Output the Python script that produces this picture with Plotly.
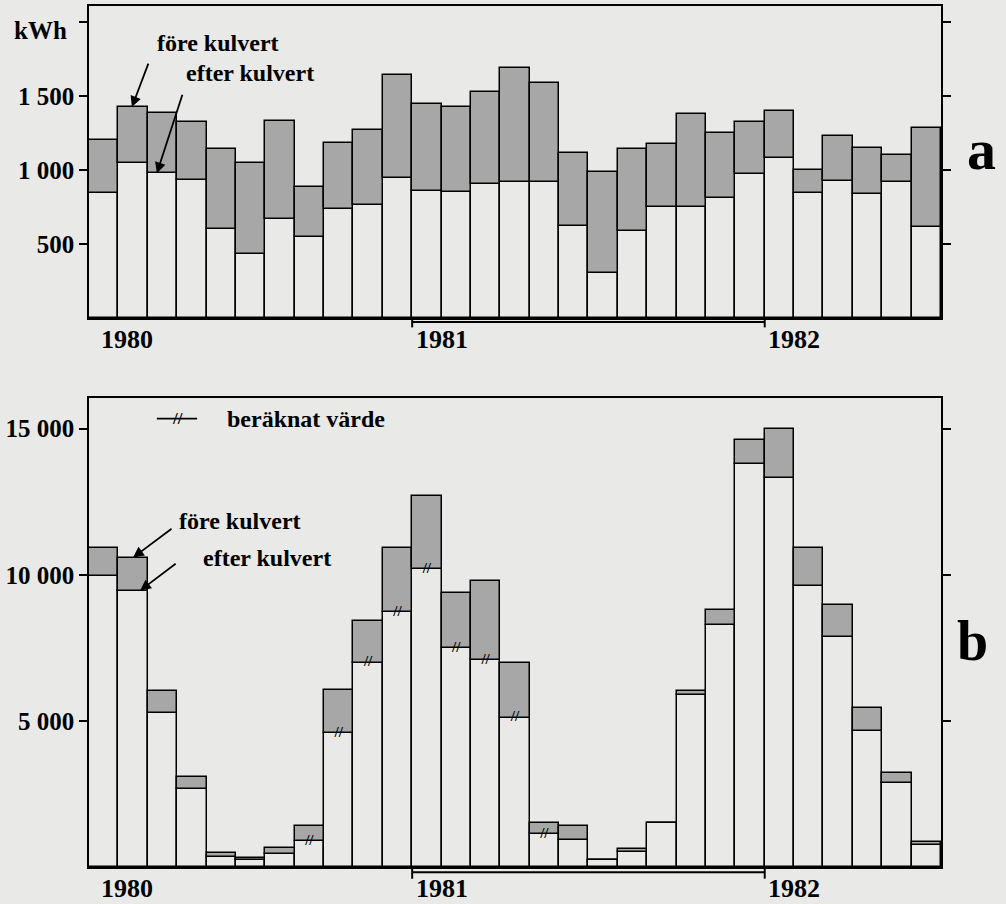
import plotly.graph_objects as go

# ---------------- data ----------------
# 29 monthly bars, Feb 1980 .. Jun 1982
years = ["1980", "1981", "1982"]
year_first_bar = [0, 11, 23]          # index of first bar of each year
year_label_x = [0.8, 11.5, 23.5]

# panel a (kWh)
fore_a = [1200, 1425, 1386, 1327, 1139, 1044, 1332, 888, 1185, 1271, 1644, 1447, 1429, 1525,
          1686, 1590, 1112, 986, 1143, 1177, 1379, 1247, 1323, 1397, 998, 1229, 1150, 1103, 1282]
efter_a = [843, 1046, 978, 931, 602, 430, 670, 548, 734, 761, 945, 861, 852, 905,
           919, 919, 623, 303, 585, 749, 749, 812, 973, 1083, 847, 926, 836, 917, 612]

# panel b
fore_b = [10900, 10590, 6030, 3070, 480, 300, 640, 1416, 6060, 8430, 10900, 12690, 9360, 9780,
          6990, 1490, 1410, 250, 627, 1500, 6040, 8780, 14620, 15000, 10900, 8950, 5440, 3215, 840]
efter_b = [9960, 9460, 5280, 2670, 343, 228, 434, 891, 4570, 6990, 8710, 10200, 7480, 7070,
           5110, 1120, 914, 250, 520, 1500, 5870, 8280, 13800, 13310, 9620, 7860, 4650, 2890, 750]
beraknat_b = [7, 8, 9, 10, 11, 12, 13, 14, 15]   # bars with calculated value

ticks_a = [500, 1000, 1500, 2000]
ticktext_a = ["500", "1 000", "1 500", ""]
ticks_b = [5000, 10000, 15000]
ticktext_b = ["5 000", "10 000", "15 000"]

# ---------------- style ----------------
BG = "#e9e9e7"
GREY = "#a7a7a7"
FONT = "Liberation Serif"
idx = list(range(len(fore_a)))

fig = go.Figure()

def add_panel(fore, efter, xa, ya):
    fig.add_trace(go.Bar(x=idx, y=efter, base=[0] * len(efter), width=1,
                         marker=dict(color=BG, line=dict(color="black", width=1.5)),
                         xaxis=xa, yaxis=ya, showlegend=False, hoverinfo="skip"))
    fig.add_trace(go.Bar(x=idx, y=[f - e for f, e in zip(fore, efter)], base=efter, width=1,
                         marker=dict(color=GREY, line=dict(color="black", width=1.5)),
                         xaxis=xa, yaxis=ya, showlegend=False, hoverinfo="skip"))

add_panel(fore_a, efter_a, "x", "y")
add_panel(fore_b, efter_b, "x2", "y2")

# calculated-value marks
fig.add_trace(go.Scatter(x=beraknat_b, y=[efter_b[i] for i in beraknat_b], mode="text",
                         text=["<b>//</b>"] * len(beraknat_b),
                         textfont=dict(family=FONT, size=15, color="black"),
                         xaxis="x2", yaxis="y2", showlegend=False, hoverinfo="skip"))

axis_common = dict(showline=True, linecolor="black", linewidth=1.5, mirror=True,
                   showgrid=False, zeroline=False, automargin=False)
fig.update_layout(
    width=1006, height=904,
    margin=dict(l=89, r=65, t=6, b=37),
    paper_bgcolor=BG, plot_bgcolor=BG,
    barmode="overlay", bargap=0,
    font=dict(family=FONT, color="black"),
    xaxis=dict(domain=[0, 1], range=[-0.5, 28.5], showticklabels=False, ticks="",
               anchor="y", **axis_common),
    xaxis2=dict(domain=[0, 1], range=[-0.5, 28.5], showticklabels=False, ticks="",
                anchor="y2", **axis_common),
    yaxis=dict(domain=[0.6376, 1.0], range=[0, 2108], tickvals=ticks_a, ticktext=ticktext_a,
               ticks="outside", ticklen=8, tickwidth=1.5, tickcolor="black",
               tickfont=dict(family=FONT, size=25, weight="bold"), anchor="x",
               **{**axis_common, "mirror": "ticks"}),
    yaxis2=dict(domain=[0, 0.5447], range=[0, 16050], tickvals=ticks_b, ticktext=ticktext_b,
                ticks="outside", ticklen=8, tickwidth=1.5, tickcolor="black",
                tickfont=dict(family=FONT, size=25, weight="bold"), anchor="x2",
                **{**axis_common, "mirror": "ticks"}),
)

ann = []
shapes = []
lbl = dict(family=FONT, size=24, color="black", weight="bold")

# kWh unit label
ann.append(dict(text="kWh", xref="paper", yref="y", x=-0.024, y=1940, xanchor="right",
                yanchor="middle", showarrow=False, font=dict(family=FONT, size=25, weight="bold")))

# year labels and 1981 bracket
for xa, ya, ylab, yb, ytk in [("x", "y", -0.07, -0.013, -0.03), ("x2", "y2", -0.045, -0.011, -0.025)]:
    for yr, xp in zip(years, year_label_x):
        ann.append(dict(text=yr, xref=xa, yref=ya + " domain", x=xp, y=ylab,
                        xanchor="center", yanchor="middle", showarrow=False,
                        font=dict(family=FONT, size=26, weight="bold")))
    x0 = year_first_bar[1] - 0.5
    x1 = year_first_bar[2] - 0.5
    shapes.append(dict(type="line", xref=xa, yref=ya + " domain", x0=x0, x1=x1, y0=yb, y1=yb,
                       line=dict(color="black", width=2)))
    for xv in (x0, x1):
        shapes.append(dict(type="line", xref=xa, yref=ya + " domain", x0=xv, x1=xv, y0=0, y1=ytk,
                           line=dict(color="black", width=2)))

# panel a labels and arrows
ann.append(dict(text="före kulvert", xref="x", yref="y", x=3.89, y=1858, showarrow=False, font=lbl))
ann.append(dict(text="efter kulvert", xref="x", yref="y", x=4.98, y=1655, showarrow=False, font=lbl))
ann.append(dict(text="", xref="x", yref="y", x=0.96, y=fore_a[1], ax=17, ay=-45,
                showarrow=True, arrowhead=2, arrowsize=1.2, arrowwidth=1.8, arrowcolor="black"))
ann.append(dict(text="", xref="x", yref="y", x=1.81, y=efter_a[2], ax=26, ay=-80,
                showarrow=True, arrowhead=2, arrowsize=1.2, arrowwidth=1.8, arrowcolor="black"))

# panel b labels and arrows
ann.append(dict(text="före kulvert", xref="x2", yref="y2", x=4.64, y=11858, showarrow=False, font=lbl))
ann.append(dict(text="efter kulvert", xref="x2", yref="y2", x=5.56, y=10581, showarrow=False, font=lbl))
ann.append(dict(text="", xref="x2", yref="y2", x=1.0, y=fore_b[1], ax=40, ay=-30,
                showarrow=True, arrowhead=2, arrowsize=1.2, arrowwidth=1.8, arrowcolor="black"))
ann.append(dict(text="", xref="x2", yref="y2", x=1.24, y=efter_b[1], ax=37, ay=-28,
                showarrow=True, arrowhead=2, arrowsize=1.2, arrowwidth=1.8, arrowcolor="black"))

# legend for calculated value
shapes.append(dict(type="line", xref="x2", yref="y2", x0=1.81, x1=3.18, y0=15342, y1=15342,
                   line=dict(color="black", width=1.8)))
ann.append(dict(text="<b>//</b>", xref="x2", yref="y2", x=2.5, y=15342, showarrow=False,
                font=dict(family=FONT, size=17, color="black")))
ann.append(dict(text="beräknat värde", xref="x2", yref="y2", x=4.13, y=15342, xanchor="left",
                yanchor="middle", showarrow=False, font=lbl))

# panel letters
ann.append(dict(text="a", xref="paper", yref="paper", x=1.048, y=0.833, xanchor="center",
                yanchor="middle", showarrow=False, font=dict(family=FONT, size=58, weight="bold")))
ann.append(dict(text="b", xref="paper", yref="paper", x=1.037, y=0.262, xanchor="center",
                yanchor="middle", showarrow=False, font=dict(family=FONT, size=56, weight="bold")))

fig.update_layout(annotations=ann, shapes=shapes)
fig.write_html("out.html", config={"displayModeBar": False},
               post_script="document.body.style.margin='0px';document.body.style.overflow='hidden';")
